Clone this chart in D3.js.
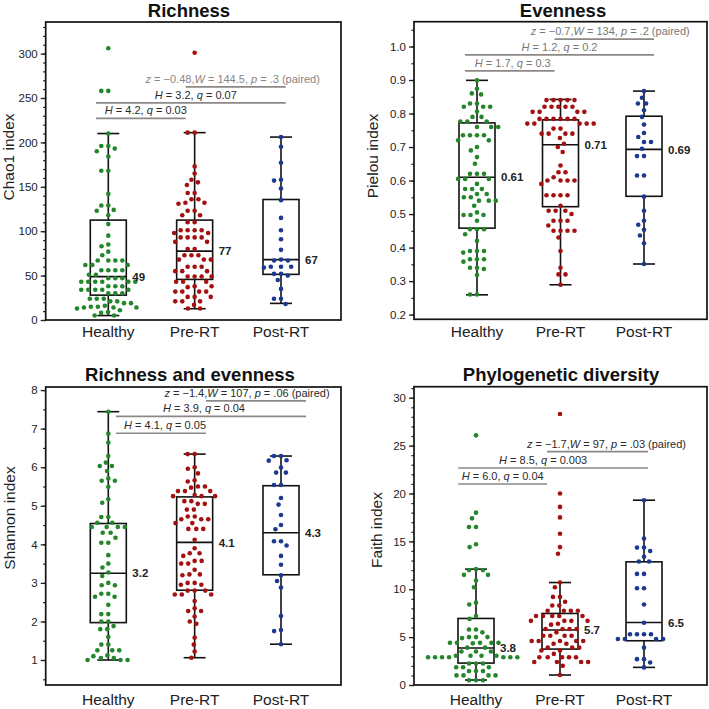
<!DOCTYPE html>
<html><head><meta charset="utf-8">
<script src="https://cdn.jsdelivr.net/npm/d3@7"></script>
<style>
body{margin:0;background:#fff}
text{font-family:"Liberation Sans",Arial,Helvetica,sans-serif}
</style>
</head><body>
<svg id="chart" width="709" height="709"></svg>
<script>
// ---------------- DATA ----------------
const categories = ["Healthy", "Pre-RT", "Post-RT"];
const groupColors = ["#23862b", "#a4100f", "#1b3990"];

// Richness (Chao1)
const chao1Healthy = [306,258,258,210,196,196,193,190,184,168,168,142,129,129,124,123,118,108,95,85,83,77,
  73,67,67,67,67,62,62,62,56,56,56,56,51,51,47,47,47,43,43,43,43,43,43,38,38,38,34,34,34,34,34,30,30,30,
  24,24,24,21,21,19,19,16,15,15,14,14,14,13,11,9,8,5,5];
const chao1Pre = [301,211,211,173,165,158,155,152,143,143,136,136,132,132,131,123,123,118,118,110,110,
  101,101,101,101,98,98,93,93,93,93,88,88,80,80,73,73,73,68,68,68,60,60,60,55,55,55,49,49,49,49,43,43,43,
  38,38,37,32,32,32,32,26,26,26,21,21,21,17,13,13];
const chao1Post = [206,195,177,158,157,148,135,115,101,91,79,68,67,67,60,60,60,59,52,52,50,45,35,24,24,18];
const chao1Stats = [[5,28,48.8,112.5,210],[12.7,45.7,77.6,112.5,211],[18.7,51.4,68,135.7,206]]; // low whisker, Q1, median, Q3, high whisker
const chao1Medians = ["49", "77", "67"];
const chao1Ticks = [0, 50, 100, 150, 200, 250, 300];
const chao1Tests = ["H = 4.2, q = 0.03", "H = 3.2, q = 0.07", "z = \u22120.48,W = 144.5, p = .3 (paired)"];

// Evenness (Pielou)
const pielouHealthy = [0.899,0.874,0.86,0.857,0.83,0.83,0.82,0.82,0.82,0.806,0.79,0.79,0.776,0.776,0.776,
  0.76,0.76,0.76,0.735,0.735,0.735,0.735,0.72,0.72,0.70,0.69,0.67,0.65,0.62,0.62,0.62,0.605,0.605,0.605,
  0.59,0.575,0.575,0.575,0.56,0.56,0.55,0.55,0.54,0.54,0.54,0.525,0.505,0.497,0.497,0.497,0.48,0.455,
  0.455,0.455,0.44,0.42,0.39,0.39,0.39,0.385,0.365,0.365,0.365,0.358,0.34,0.34,0.336,0.318,0.26,0.26];
const pielouPre = [0.84,0.84,0.84,0.84,0.84,0.82,0.82,0.82,0.82,0.82,0.805,0.805,0.805,0.805,
  0.784,0.784,0.784,0.784,0.784,0.784,0.77,0.77,0.77,0.77,0.77,0.755,0.755,0.74,0.74,0.74,0.74,
  0.727,0.71,0.70,0.685,0.645,0.625,0.625,0.61,0.60,0.60,0.60,0.60,0.59,0.556,0.556,0.556,0.556,0.525,
  0.51,0.51,0.51,0.50,0.48,0.48,0.48,0.466,0.45,0.45,0.45,0.45,0.43,0.39,0.34,0.32,0.32,0.289];
const pielouPost = [0.867,0.847,0.83,0.83,0.81,0.79,0.767,0.742,0.73,0.715,0.715,0.695,0.673,0.673,
  0.615,0.615,0.552,0.51,0.48,0.468,0.453,0.436,0.413,0.351];
const pielouStats = [[0.259,0.458,0.61,0.772,0.899],[0.289,0.522,0.707,0.781,0.842],[0.351,0.553,0.693,0.792,0.867]];
const pielouMedians = ["0.61", "0.71", "0.69"];
const pielouTicks = [0.2, 0.3, 0.4, 0.5, 0.6, 0.7, 0.8, 0.9, 1.0];
const pielouTests = ["H = 1.7, q = 0.3", "H = 1.2, q = 0.2", "z = \u22120.7,W = 134, p = .2 (paired)"];

// Richness and evenness (Shannon)
const shannonHealthy = [7.44,6.87,6.64,6.29,6.12,6.03,6.03,5.9,5.71,5.65,5.65,5.49,5.17,5.08,4.71,4.71,
  4.56,4.56,4.45,4.45,4.45,4.45,4.3,4.3,4.17,4.04,4.04,3.72,3.5,3.4,3.27,3.18,3.0,2.94,2.94,2.72,2.72,
  2.64,2.64,2.43,2.19,2.19,2.0,2.0,1.88,1.8,1.8,1.6,1.4,1.4,1.25,1.25,1.25,1.12,1.1,1.05,1.05,1.0,1.0,1.0];
const shannonPre = [6.34,6.34,6.0,5.96,5.84,5.66,5.63,5.5,5.5,5.47,5.38,5.38,5.38,5.25,5.25,5.25,5.28,
  5.12,5.12,5.05,5.05,4.9,4.9,4.72,4.72,4.65,4.65,4.65,4.55,4.55,4.4,4.4,4.4,4.12,3.9,3.77,3.77,3.7,
  3.57,3.57,3.5,3.5,3.34,3.22,3.22,3.2,3.0,3.0,2.95,2.95,2.8,2.8,2.8,2.7,2.7,2.7,2.53,2.34,2.27,2.27,
  2.13,2.0,1.94,1.58,1.4,1.22,1.06];
const shannonPost = [6.29,6.29,6.18,6.17,5.99,5.86,5.86,5.54,5.54,5.2,5.03,4.76,4.5,4.39,4.08,4.08,3.97,
  3.7,3.47,3.2,3.05,2.88,2.14,1.78,1.75,1.41];
const shannonStats = [[1.0,1.97,3.25,4.54,7.44],[1.06,2.81,4.05,5.23,6.34],[1.41,3.21,4.30,5.52,6.29]];
const shannonMedians = ["3.2", "4.1", "4.3"];
const shannonTicks = [1, 2, 3, 4, 5, 6, 7, 8];
const shannonTests = ["H = 4.1, q = 0.05", "H = 3.9, q = 0.04", "z = \u22121.4,W = 107, p = .06 (paired)"];

// Phylogenetic diversity (Faith)
const faithHealthy = [26.07,18.0,17.4,16.5,16.5,14.7,14.4,12.1,12.0,12.0,11.5,11.5,10.9,10.2,8.6,8.4,7.2,
  6.9,5.8,5.8,5.5,5.0,5.0,5.0,4.9,4.4,4.4,4.4,4.4,4.4,4.35,3.9,3.9,3.5,3.5,3.5,3.05,3.05,3.05,3.05,
  2.9,2.9,2.9,2.9,2.9,2.9,2.9,2.25,2.25,2.25,1.85,1.85,1.85,1.45,1.45,1.45,1.0,1.0,1.0,1.0,0.5,0.5,0.5];
const faithPre = [28.3,20.0,18.6,17.5,15.8,14.4,13.7,10.7,10.2,9.2,9.2,8.7,8.3,8.3,7.75,7.75,7.75,7.75,
  7.2,7.2,7.2,7.2,7.2,6.7,6.7,6.7,6.7,6.4,6.3,5.85,5.85,5.85,5.85,5.5,5.15,5.15,5.15,5.15,4.6,4.6,4.6,
  4.6,4.6,4.3,4.3,3.9,3.9,3.9,3.6,3.6,3.25,2.9,2.9,2.9,2.9,2.9,2.4,2.4,2.4,2.4,2.0,1.04];
const faithPost = [19.3,15.3,14.35,14.35,14.0,13.4,12.9,12.9,11.6,11.6,10.1,10.1,8.4,6.5,5.3,5.3,5.3,5.3,
  4.8,4.8,4.8,4.8,3.9,2.7,2.7,2.35,1.84];
const faithStats = [[0.52,2.29,3.86,6.95,12.1],[1.04,3.75,5.74,7.47,10.7],[1.84,4.62,6.53,12.86,19.3]];
const faithMedians = ["3.8", "5.7", "6.5"];
const faithTicks = [0, 5, 10, 15, 20, 25, 30];
const faithTests = ["H = 6.0, q = 0.04", "H = 8.5, q = 0.003", "z = \u22121.7,W = 97, p = .03 (paired)"];

const testPairs = [[0, 1], [0, 2], [1, 2]];

// ---------------- LAYOUT ----------------
const panels = [
  { title: "Richness", ylabel: "Chao1 index", groups: [chao1Healthy, chao1Pre, chao1Post],
    stats: chao1Stats, medians: chao1Medians, ticks: chao1Ticks, fmt: d3.format("d"),
    minor: d3.range(0, 331, 10), tests: chao1Tests,
    frame: [45.7, 22, 341, 320], domain: [0, 335.6], catRange: [108.3, 281],
    titlePos: [189, 17], ylabPos: [8.5, 157], catY: 337,
    testY: [227, 244.5, 262.5], endOff: [-12.3, -9, 4.7], textDx: [5, 5, -3],
    testColors: ["#2a2a2a", "#2a2a2a", "#8a8585"] },
  { title: "Evenness", ylabel: "Pielou index", groups: [pielouHealthy, pielouPre, pielouPost],
    stats: pielouStats, medians: pielouMedians, ticks: pielouTicks, fmt: d3.format(".1f"),
    minor: d3.range(0.2, 1.051, 0.05), tests: pielouTests,
    frame: [414, 21.7, 707, 319.3], domain: [0.186, 1.074], catRange: [477, 644],
    titlePos: [563, 17], ylabPos: [372.5, 156], catY: 337,
    testY: [0.927, 0.975, 1.022], endOff: [-12, -6, 10], textDx: [3, 0, 6],
    testColors: ["#777", "#777", "#777"] },
  { title: "Richness and evenness", ylabel: "Shannon index", groups: [shannonHealthy, shannonPre, shannonPost],
    stats: shannonStats, medians: shannonMedians, ticks: shannonTicks, fmt: d3.format("d"),
    minor: d3.range(0.5, 8.01, 0.5), tests: shannonTests,
    frame: [45.7, 387, 341, 685], domain: [0.352, 8.08], catRange: [108.3, 281],
    titlePos: [190, 381], ylabPos: [9, 518], catY: 705,
    testY: [6.88, 7.32, 7.72], endOff: [7.7, 11.4, 25], textDx: [4, -7, -9],
    testColors: ["#2a2a2a", "#2a2a2a", "#2a2a2a"] },
  { title: "Phylogenetic diversity", ylabel: "Faith index", groups: [faithHealthy, faithPre, faithPost],
    stats: faithStats, medians: faithMedians, ticks: faithTicks, fmt: d3.format("d"),
    minor: d3.range(0, 31.01, 1), tests: faithTests,
    frame: [414, 386.7, 707, 685], domain: [0, 31.15], catRange: [476, 644],
    titlePos: [561, 381], ylabPos: [376.5, 530], catY: 705,
    testY: [20.99, 22.66, 24.36], endOff: [-17.7, -13, 4], textDx: [0, -10, 9],
    testColors: ["#2a2a2a", "#2a2a2a", "#2a2a2a"] }
];

const svg = d3.select("#chart");
const BOX_W = 36, CAP_W = 22, R = 2.3, D = 7;

function swarm(values, y) {
  const pts = values.map(v => ({ v, y: y(v), x: 0 })).sort((a, b) => a.y - b.y);
  const placed = [];
  for (const p of pts) {
    const near = placed.filter(q => Math.abs(q.y - p.y) < D);
    const cands = [0];
    for (const q of near) {
      const dx = Math.sqrt(D * D - (q.y - p.y) ** 2);
      cands.push(q.x + dx, q.x - dx);
    }
    cands.sort((a, b) => Math.abs(a) - Math.abs(b) || a - b);
    for (const c of cands) {
      if (near.every(q => (q.x - c) ** 2 + (q.y - p.y) ** 2 >= D * D - 1e-6)) { p.x = c; break; }
    }
    placed.push(p);
  }
  return placed;
}

function richText(sel, str) {
  const parts = str.split(/\b([HqzWp])\b/);
  parts.forEach((s, i) => {
    if (!s) return;
    sel.append("tspan").attr("font-style", i % 2 === 1 ? "italic" : "normal").text(s);
  });
}

panels.forEach(P => {
  const [fx0, fy0, fx1, fy1] = P.frame;
  const g = svg.append("g");
  const y = d3.scaleLinear().domain(P.domain).range([fy1, fy0]);
  const x = d3.scalePoint().domain(categories).range(P.catRange);

  // minor ticks
  const minorAxis = d3.axisLeft(y).tickValues(P.minor).tickSize(2.6).tickFormat("");
  const gm = g.append("g").attr("transform", `translate(${fx0},0)`).call(minorAxis);
  gm.select(".domain").remove();
  gm.selectAll("line").attr("stroke", "#222").attr("stroke-width", 1.2);

  // major ticks
  const majorAxis = d3.axisLeft(y).tickValues(P.ticks).tickSize(5).tickPadding(3).tickFormat(P.fmt);
  const ga = g.append("g").attr("transform", `translate(${fx0},0)`).call(majorAxis);
  ga.select(".domain").remove();
  ga.selectAll("line").attr("stroke", "#222").attr("stroke-width", 1.3);
  ga.selectAll("text").attr("font-size", 11.5).attr("fill", "#222")
    .attr("font-family", '"Liberation Sans",Arial,sans-serif');

  // frame
  g.append("rect").attr("x", fx0).attr("y", fy0).attr("width", fx1 - fx0).attr("height", fy1 - fy0)
    .attr("fill", "none").attr("stroke", "#111").attr("stroke-width", 1.7);

  // title
  g.append("text").attr("x", P.titlePos[0]).attr("y", P.titlePos[1]).attr("text-anchor", "middle")
    .attr("font-size", 18.5).attr("font-weight", "bold").attr("fill", "#111").text(P.title);

  // y label
  g.append("text").attr("transform", `translate(${P.ylabPos[0]},${P.ylabPos[1]}) rotate(-90)`)
    .attr("text-anchor", "middle").attr("dominant-baseline", "central")
    .attr("font-size", 15.5).attr("fill", "#222").text(P.ylabel);

  // category labels
  categories.forEach(c => {
    g.append("text").attr("x", x(c)).attr("y", P.catY).attr("text-anchor", "middle")
      .attr("font-size", 15.5).attr("fill", "#222").text(c);
  });

  // boxes
  categories.forEach((c, i) => {
    const [lo, q1, med, q3, hi] = P.stats[i];
    const cx = x(c);
    const bg = g.append("g").attr("stroke", "#111").attr("stroke-width", 1.6).attr("fill", "none");
    bg.append("line").attr("x1", cx).attr("x2", cx).attr("y1", y(hi)).attr("y2", y(q3));
    bg.append("line").attr("x1", cx).attr("x2", cx).attr("y1", y(q1)).attr("y2", y(lo));
    bg.append("line").attr("x1", cx - CAP_W / 2).attr("x2", cx + CAP_W / 2).attr("y1", y(hi)).attr("y2", y(hi));
    bg.append("line").attr("x1", cx - CAP_W / 2).attr("x2", cx + CAP_W / 2).attr("y1", y(lo)).attr("y2", y(lo));
    bg.append("rect").attr("x", cx - BOX_W / 2).attr("width", BOX_W).attr("y", y(q3)).attr("height", y(q1) - y(q3));
    bg.append("line").attr("x1", cx - BOX_W / 2).attr("x2", cx + BOX_W / 2).attr("y1", y(med)).attr("y2", y(med));
  });

  // points
  categories.forEach((c, i) => {
    const pts = swarm(P.groups[i], y);
    g.append("g").selectAll("circle").data(pts).join("circle")
      .attr("cx", d => x(c) + d.x).attr("cy", d => d.y).attr("r", R).attr("fill", groupColors[i]);
  });

  // median labels
  categories.forEach((c, i) => {
    g.append("text").attr("x", x(c) + BOX_W / 2 + 6).attr("y", y(P.stats[i][2]))
      .attr("dy", "0.36em").attr("font-size", 11.5).attr("font-weight", "bold").attr("fill", "#222")
      .text(P.medians[i]);
  });

  // test annotations
  testPairs.forEach(([a, b], k) => {
    const xa = x(categories[a]) + P.endOff[a];
    const xb = x(categories[b]) + P.endOff[b];
    const ly = y(P.testY[k]);
    g.append("line").attr("x1", xa).attr("x2", xb).attr("y1", ly).attr("y2", ly)
      .attr("stroke", "#8c8888").attr("stroke-width", 1.7);
    const t = g.append("text").attr("x", (xa + xb) / 2 + P.textDx[k]).attr("y", ly - 4)
      .attr("text-anchor", "middle").attr("font-size", 11).attr("fill", P.testColors[k]);
    richText(t, P.tests[k]);
  });
});
</script>
</body></html>
